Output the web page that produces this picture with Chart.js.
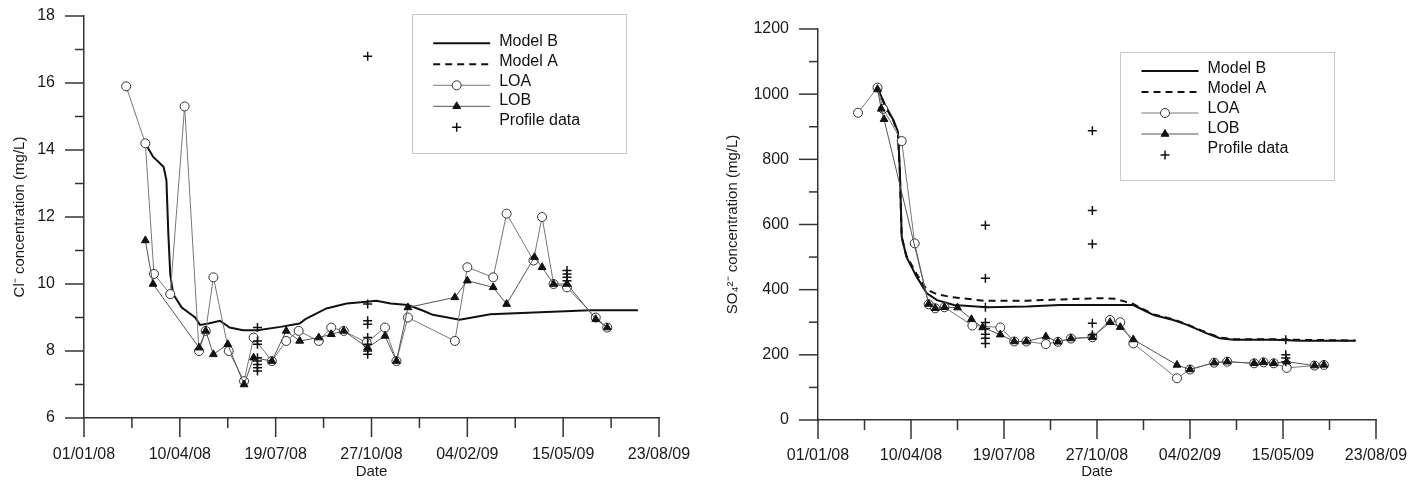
<!DOCTYPE html>
<html><head><meta charset="utf-8">
<script src="https://cdn.jsdelivr.net/npm/chart.js@4.4.1/dist/chart.umd.min.js"></script>
<style>
html,body{margin:0;padding:0;background:#fff;width:1425px;height:484px;overflow:hidden;}
canvas{position:absolute;top:0;}
#cl{left:0;width:700px;height:484px;}
#so{left:700px;width:725px;height:484px;}
</style></head><body>
<canvas id="cl" width="700" height="484"></canvas>
<canvas id="so" width="725" height="484"></canvas>
<script>
// x values are days since 01/01/08
const xTickDays = [0, 100, 200, 300, 400, 500, 600];
const xTickLabels = ['01/01/08', '10/04/08', '19/07/08', '27/10/08', '04/02/09', '15/05/09', '23/08/09'];
const clYTicks = [6, 8, 10, 12, 14, 16, 18];
const soYTicks = [0, 200, 400, 600, 800, 1000, 1200];
const seriesNames = ['Model B', 'Model A', 'LOA', 'LOB', 'Profile data'];

// ---- Cl- panel ----
const clModelB = [[64,14.2],[72,13.8],[83,13.5],[86,13.1],[88,11.5],[90,10.3],[93,9.7],[102,9.3],[116,9.0],[121,8.78],[130,8.82],[142,8.9],[152,8.7],[166,8.62],[181,8.62],[205,8.72],[225,8.82],[231,8.95],[253,9.27],[274,9.42],[295,9.47],[305,9.5],[320,9.42],[338,9.37],[354,9.2],[364,9.08],[392,8.93],[424,9.1],[476,9.16],[528,9.22],[578,9.22]];
const clModelA = [];
const clLOA = [[44,15.9],[64,14.2],[73,10.3],[90,9.7],[105,15.3],[120,8.0],[127,8.6],[135,10.2],[151,8.0],[167,7.1],[177,8.4],[196,7.7],[211,8.3],[224,8.6],[245,8.3],[258,8.7],[271,8.6],[295,8.25],[314,8.7],[326,7.7],[338,9.0],[387,8.3],[400,10.5],[427,10.2],[441,12.1],[469,10.7],[478,12.0],[490,10.0],[504,9.9],[534,9.0],[546,8.7]];
const clLOB = [[64,11.3],[72,10.0],[120,8.1],[127,8.6],[135,7.9],[150,8.2],[167,7.0],[177,7.8],[196,7.7],[211,8.6],[225,8.3],[245,8.4],[258,8.5],[271,8.6],[296,8.1],[314,8.45],[326,7.7],[338,9.3],[387,9.6],[400,10.1],[427,9.9],[441,9.4],[470,10.8],[478,10.5],[490,10.0],[504,10.0],[534,8.95],[546,8.7]];
const clProfile = [[181,8.7],[181,8.3],[181,8.2],[181,7.8],[181,7.7],[181,7.6],[181,7.5],[181,7.4],
  [296,16.8],[296,9.4],[296,8.9],[296,8.8],[296,8.4],[296,8.2],[296,8.0],[296,7.9],
  [504,10.4],[504,10.3],[504,10.2],[504,10.1]];

// ---- SO4 2- panel ----
const soModelB = [[64,1020],[72,967],[81,921],[86,885],[88,767],[90,563],[95,501],[106,440],[117,389],[128,368],[146,353],[182,346],[225,348],[260,353],[275,353],[339,353],[346,343],[361,322],[382,307],[397,292],[418,266],[432,251],[447,246],[490,246],[519,243],[578,243]];
const soModelA = [[64,1020],[72,965],[81,918],[86,880],[88,760],[90,560],[95,505],[106,448],[117,400],[128,386],[142,378],[178,366],[225,366],[260,370],[303,374],[320,372],[339,356],[346,345],[361,324],[382,309],[397,293],[418,268],[432,253],[447,248],[490,248],[519,246],[578,244]];
const soLOA = [[43,943],[64,1020],[70,955],[90,856],[104,542],[119,355],[126,343],[136,346],[166,290],[196,284],[211,241],[224,241],[245,233],[258,240],[272,250],[295,254],[314,307],[325,300],[339,235],[386,128],[400,155],[426,176],[440,179],[469,174],[479,177],[490,174],[504,160],[534,167],[544,169]];
const soLOB = [[64,1015],[68,955],[71,923],[119,356],[126,343],[136,346],[150,345],[165,309],[177,284],[196,262],[211,241],[224,241],[245,256],[258,240],[272,250],[295,254],[314,300],[325,285],[339,247],[386,169],[400,155],[426,176],[440,179],[469,174],[479,177],[490,174],[504,179],[534,167],[544,169]];
const soProfile = [[180,598],[180,435],[180,346],[180,299],[180,281],[180,263],[180,251],[180,235],
  [295,888],[295,643],[295,540],[295,297],[295,262],
  [503,246],[503,200],[503,190],[503,179]];

const FONT = '"Liberation Sans", Arial, Helvetica, sans-serif';
Chart.defaults.font.family = FONT;
Chart.defaults.font.size = 16;
Chart.defaults.color = '#1a1a1a';

const pts = arr => arr.map(p => ({x: p[0], y: p[1]}));

function makeDatasets(mB, mA, loa, lob, prof) {
  return [
    {label: seriesNames[0], data: pts(mB), borderColor: '#111', borderWidth: 2, pointRadius: 0, tension: 0, order: 3},
    {label: seriesNames[1], data: pts(mA), borderColor: '#111', borderWidth: 2, borderDash: [7, 5], pointRadius: 0, tension: 0, order: 4},
    {label: seriesNames[2], data: pts(loa), borderColor: '#777', borderWidth: 1, pointStyle: 'circle', pointRadius: 4.5,
     pointBackgroundColor: '#fff', pointBorderColor: '#333', pointBorderWidth: 1, tension: 0, order: 2},
    {label: seriesNames[3], data: pts(lob), borderColor: '#555', borderWidth: 1, pointStyle: 'triangle', pointRadius: 4.5,
     pointBackgroundColor: '#111', pointBorderColor: '#111', pointBorderWidth: 1, tension: 0, order: 1},
    {label: seriesNames[4], data: pts(prof), showLine: false, borderColor: '#111', pointStyle: 'cross', pointRadius: 4.5,
     pointBorderColor: '#111', pointBorderWidth: 1.5, order: 0}
  ];
}

function drawMarker(ctx, style, r, x, y, fill, stroke, lw) {
  ctx.save();
  ctx.fillStyle = fill; ctx.strokeStyle = stroke; ctx.lineWidth = lw;
  if (Chart.helpers && Chart.helpers.drawPoint) {
    Chart.helpers.drawPoint(ctx, {pointStyle: style, radius: r, rotation: 0, borderWidth: lw}, x, y);
  } else {
    ctx.beginPath();
    if (style === 'circle') { ctx.arc(x, y, r, 0, Math.PI * 2); ctx.fill(); ctx.stroke(); }
    else if (style === 'triangle') { ctx.moveTo(x, y - r); ctx.lineTo(x + r, y + r * 0.7); ctx.lineTo(x - r, y + r * 0.7); ctx.closePath(); ctx.fill(); ctx.stroke(); }
    else { ctx.moveTo(x - r, y); ctx.lineTo(x + r, y); ctx.moveTo(x, y - r); ctx.lineTo(x, y + r); ctx.stroke(); }
  }
  ctx.restore();
}

const boxLegendPlugin = {
  id: 'boxLegend',
  afterDraw(chart, args, o) {
    const ctx = chart.ctx;
    ctx.save();
    ctx.strokeStyle = '#c8c8c8'; ctx.lineWidth = 1;
    ctx.strokeRect(Math.round(o.left) + 0.5, Math.round(o.top) + 0.5, o.width, o.height);
    ctx.font = '16px ' + FONT; ctx.fillStyle = '#111'; ctx.textBaseline = 'middle'; ctx.textAlign = 'left';
    chart.data.datasets.forEach((ds, i) => {
      const ty = o.top + o.textTop + i * o.textStep;
      const sy = o.top + o.sampleTop + i * o.sampleStep;
      if (ds.showLine !== false) {
        ctx.save();
        ctx.strokeStyle = ds.borderColor; ctx.lineWidth = ds.borderWidth;
        ctx.setLineDash(ds.borderDash || []);
        ctx.beginPath(); ctx.moveTo(o.left + 21.5, sy); ctx.lineTo(o.left + 78.5, sy); ctx.stroke();
        ctx.restore();
      }
      if (ds.pointRadius > 0) {
        drawMarker(ctx, ds.pointStyle, ds.pointRadius, o.left + 45, sy,
          ds.pointBackgroundColor || '#fff', ds.pointBorderColor, ds.pointBorderWidth);
      }
      ctx.fillText(ds.label, o.left + 87.5, ty);
    });
    ctx.restore();
  }
};

const axisTicksPlugin = {
  id: 'axisTicks',
  afterDraw(chart, args, o) {
    const ctx = chart.ctx, xs = chart.scales.x, ys = chart.scales.y;
    ctx.save();
    ctx.strokeStyle = '#333'; ctx.lineWidth = 1.5;
    xs.ticks.forEach(t => {
      const px = xs.getPixelForValue(t.value);
      const len = xTickDays.includes(t.value) ? 19 : 10;
      ctx.beginPath(); ctx.moveTo(px, ys.bottom); ctx.lineTo(px, ys.bottom + len); ctx.stroke();
    });
    ys.ticks.forEach(t => {
      const py = ys.getPixelForValue(t.value);
      const len = o.yLabels.includes(t.value) ? 19 : 9;
      ctx.beginPath(); ctx.moveTo(xs.left, py); ctx.lineTo(xs.left - len, py); ctx.stroke();
    });
    ctx.restore();
  }
};

function makeOptions(c) {
  return {
    responsive: false, animation: false,
    layout: {padding: c.padding},
    plugins: {
      legend: {display: false}, tooltip: {enabled: false},
      boxLegend: c.legend,
      axisTicks: {yLabels: c.yLabels}
    },
    scales: {
      x: {
        type: 'linear', min: 0, max: 600,
        afterFit: s => { s.height = c.xAxisHeight; s.paddingLeft = 0; s.paddingRight = 0; },
        border: {display: true, color: '#333', width: 1.5},
        grid: {display: false, drawTicks: false},
        ticks: {stepSize: 50, autoSkip: false, maxRotation: 0, padding: c.xLabelPad,
          callback: v => { const i = xTickDays.indexOf(v); return i >= 0 ? xTickLabels[i] : ''; }},
        title: {display: true, text: 'Date', font: {size: 15}, padding: {top: 0, bottom: 3}}
      },
      y: {
        type: 'linear', min: c.yMin, max: c.yMax,
        afterFit: s => { s.width = c.yAxisWidth; s.paddingTop = 0; s.paddingBottom = 0; },
        border: {display: true, color: '#333', width: 1.5},
        grid: {display: false, drawTicks: false},
        ticks: {stepSize: c.yStep, autoSkip: false, padding: 29,
          callback: v => c.yLabels.includes(v) ? String(v) : ''},
        title: {display: true, text: c.yTitle, font: {size: 15}, padding: {top: c.yTitlePad, bottom: 0}}
      }
    }
  };
}

new Chart(document.getElementById('cl'), {
  type: 'line',
  data: {datasets: makeDatasets(clModelB, clModelA, clLOA, clLOB, clProfile)},
  options: makeOptions({
    padding: {left: 0, top: 16, right: 41, bottom: 0},
    xAxisHeight: 66, yAxisWidth: 84, xLabelPad: 27,
    yMin: 6, yMax: 18, yStep: 1, yLabels: clYTicks,
    yTitle: 'Cl\u207B concentration (mg/L)', yTitlePad: 11,
    legend: {left: 411.7, top: 14, width: 214, height: 139, textTop: 27.7, textStep: 19.75, sampleTop: 29.3, sampleStep: 21}
  }),
  plugins: [axisTicksPlugin, boxLegendPlugin]
});

new Chart(document.getElementById('so'), {
  type: 'line',
  data: {datasets: makeDatasets(soModelB, soModelA, soLOA, soLOB, soProfile)},
  options: makeOptions({
    padding: {left: 0, top: 29, right: 49, bottom: 0},
    xAxisHeight: 64, yAxisWidth: 118, xLabelPad: 25.5,
    yMin: 0, yMax: 1200, yStep: 100, yLabels: soYTicks,
    yTitle: 'SO\u2084\u00B2\u207B concentration (mg/L)', yTitlePad: 24,
    legend: {left: 420, top: 51.7, width: 214, height: 128, textTop: 16.6, textStep: 20, sampleTop: 19.3, sampleStep: 21}
  }),
  plugins: [axisTicksPlugin, boxLegendPlugin]
});
</script>
</body></html>
